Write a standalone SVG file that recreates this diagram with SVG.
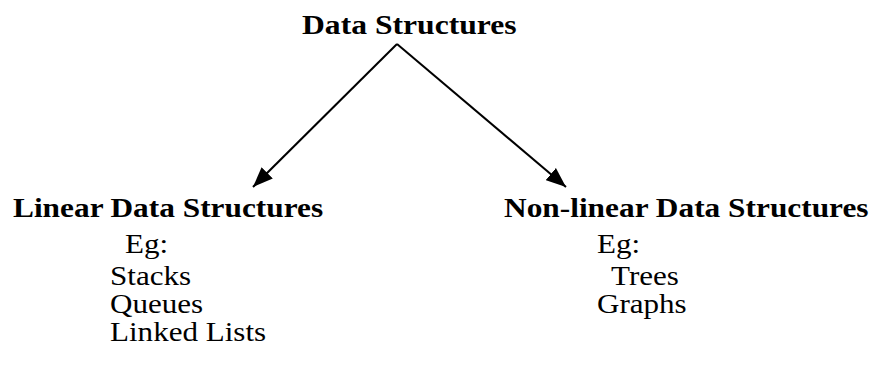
<svg xmlns="http://www.w3.org/2000/svg" width="877" height="368" viewBox="0 0 877 368">
  <defs>
    <style>
      .b { font-family: "Liberation Serif", "Times New Roman", serif; font-weight: bold; font-size: 28px; fill: #000; }
      .r { font-family: "Liberation Serif", "Times New Roman", serif; font-size: 27.5px; fill: #000; }
      .conn { stroke: #000; stroke-width: 2; fill: none; }
    </style>
    <marker id="arr" markerWidth="22" markerHeight="16" refX="20" refY="8" orient="auto" markerUnits="userSpaceOnUse">
      <path d="M0,0 L20,8 L0,16 Z" fill="#000"/>
    </marker>
  </defs>
  <rect width="877" height="368" fill="#fff"/>
  <g id="connectors">
    <line class="conn" x1="397" y1="44" x2="253" y2="187" marker-end="url(#arr)"/>
    <line class="conn" x1="397" y1="44" x2="566" y2="187" marker-end="url(#arr)"/>
  </g>
  <g id="root">
    <text class="b" transform="matrix(1.13 0 0 1 302 34)">Data Structures</text>
  </g>
  <g id="linear">
    <text class="b" transform="matrix(1.12 0 0 1 13 217)">Linear<tspan x="87">Data Structures</tspan></text>
    <text class="r" transform="matrix(1.13 0 0 1 125 253)">Eg:</text>
    <text class="r" transform="matrix(1.13 0 0 1 110 285)">Stacks</text>
    <text class="r" transform="matrix(1.13 0 0 1 110 313)">Queues</text>
    <text class="r" transform="matrix(1.13 0 0 1 110 341)">Linked Lists</text>
  </g>
  <g id="nonlinear">
    <text class="b" transform="matrix(1.12 0 0 1 504 217)">Non-linear Data Structures</text>
    <text class="r" transform="matrix(1.13 0 0 1 597 253)">Eg:</text>
    <text class="r" transform="matrix(1.13 0 0 1 611 285)">Trees</text>
    <text class="r" transform="matrix(1.13 0 0 1 597 313)">Graphs</text>
  </g>
</svg>
